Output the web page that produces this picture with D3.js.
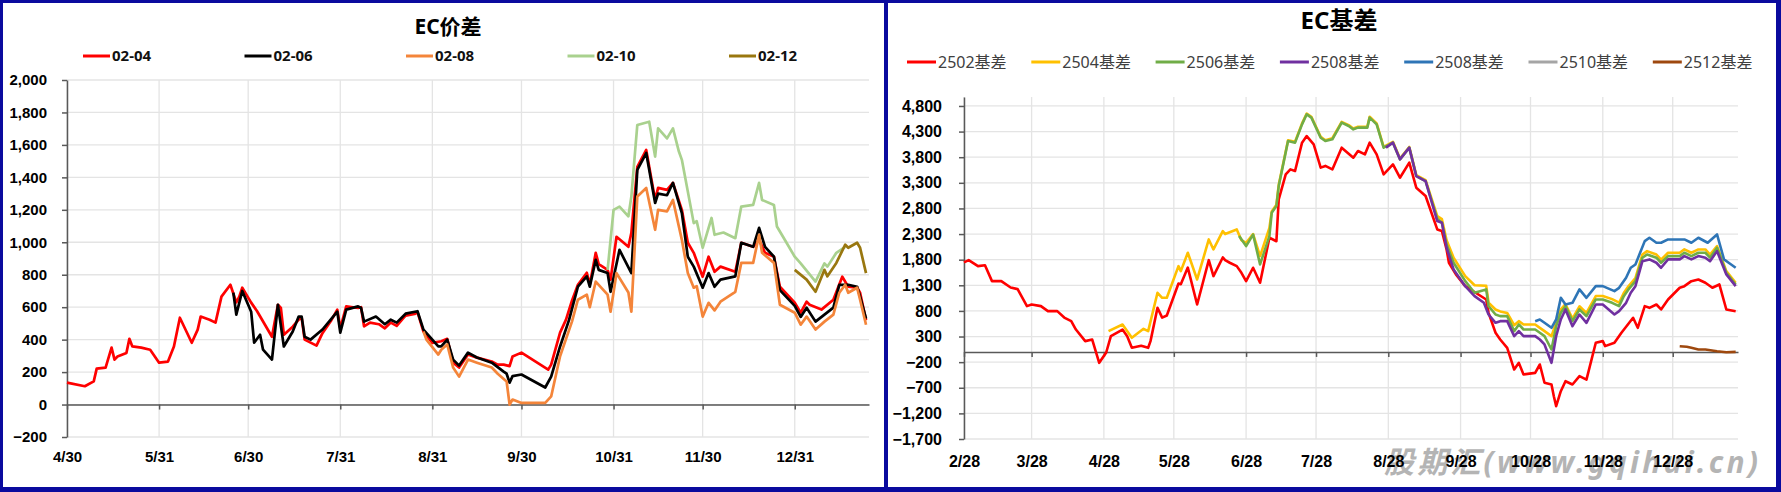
<!DOCTYPE html>
<html>
<head>
<meta charset="utf-8">
<script src="https://cdn.jsdelivr.net/npm/d3@7"></script>
<style>
	body { margin: 0; background: #fff; }
	svg { display: block; font-family: "Noto Sans", "Noto Sans CJK SC", sans-serif; }
</style>
</head>
<body>
<svg id="chart" width="1781" height="492"></svg>
<script>
// ---- data ("M/D", value); Jan belongs to the next year ----
var leftTicks = ["4/30","5/31","6/30","7/31","8/31","9/30","10/31","11/30","12/31"];
var rightTicks = ["2/28","3/28","4/28","5/28","6/28","7/28","8/28","9/28","10/28","11/28","12/28"];
var leftYTicks = d3.range(-200, 2001, 200);
var rightYTicks = d3.range(-1700, 4801, 500);
var leftNames = ["02-04","02-06","02-08","02-10","02-12"];
var rightNames = ["2502基差","2504基差","2506基差","2508基差","2508基差","2510基差","2512基差"];

var ec0204 = [["4/30",135],["5/6",113],["5/9",143],["5/10",221],["5/13",227],["5/15",351],["5/16",277],["5/17",296],["5/20",318],["5/21",405],["5/22",358],["5/25",351],["5/28",338],["5/31",258],["6/3",265],["6/5",358],["6/7",535],["6/11",381],["6/13",462],["6/14",542],["6/17",523],["6/19",505],["6/21",665],["6/24",738],["6/26",630],["6/27",665],["6/28",720],["7/1",628],["7/3",575],["7/8",418],["7/10",615],["7/11",595],["7/12",430],["7/15",480],["7/17",523],["7/18",535],["7/19",400],["7/23",363],["7/25",440],["7/28",520],["7/30",585],["7/31",470],["8/2",605],["8/6",595],["8/7",600],["8/8",482],["8/10",505],["8/13",495],["8/15",470],["8/17",505],["8/19",485],["8/21",528],["8/22",548],["8/25",558],["8/26",570],["8/28",450],["8/31",380],["9/3",390],["9/5",405],["9/7",258],["9/9",228],["9/12",308],["9/15",289],["9/20",265],["9/22",246],["9/24",246],["9/26",237],["9/27",296],["9/30",320],["10/9",215],["10/10",246],["10/13",443],["10/15",523],["10/17",640],["10/19",738],["10/22",812],["10/23",738],["10/25",935],["10/26",865],["10/29",830],["10/30",770],["11/1",1034],["11/5",972],["11/6",1058],["11/8",1465],["11/11",1569],["11/14",1261],["11/15",1335],["11/18",1323],["11/20",1366],["11/23",1200],["11/25",997],["11/27",935],["11/30",788],["12/2",911],["12/4",818],["12/6",850],["12/11",818],["12/13",997],["12/17",972],["12/19",1015],["12/21",935],["12/24",911],["12/26",726],["12/31",628],["1/2",566],["1/4",634],["1/5",615],["1/9",585],["1/13",646],["1/16",788],["1/18",726],["1/21",720],["1/22",689],["1/24",520]];
var ec0206 = [["6/25",690],["6/26",554],["6/28",700],["7/1",572],["7/2",381],["7/4",430],["7/5",338],["7/8",277],["7/10",615],["7/12",358],["7/15",450],["7/17",542],["7/18",542],["7/19",418],["7/21",400],["7/25",462],["7/30",572],["7/31",443],["8/2",585],["8/6",605],["8/7",595],["8/8",511],["8/12",542],["8/15",495],["8/17",523],["8/19",505],["8/22",560],["8/26",575],["8/28",462],["9/2",358],["9/3",358],["9/5",400],["9/7",277],["9/9",240],["9/12",320],["9/15",290],["9/20",258],["9/24",203],["9/25",190],["9/26",135],["9/27",175],["9/30",185],["10/8",105],["10/10",172],["10/13",358],["10/16",520],["10/19",726],["10/22",790],["10/23",726],["10/25",892],["10/26",830],["10/29",810],["10/30",695],["11/2",953],["11/6",810],["11/8",1446],["11/11",1550],["11/14",1242],["11/15",1300],["11/18",1290],["11/20",1366],["11/23",1180],["11/25",911],["11/27",850],["11/30",720],["12/2",810],["12/4",726],["12/6",770],["12/11",790],["12/13",997],["12/17",972],["12/19",1089],["12/21",972],["12/24",911],["12/26",705],["12/31",608],["1/2",540],["1/4",597],["1/7",511],["1/10",554],["1/13",597],["1/15",738],["1/18",738],["1/21",726],["1/22",665],["1/24",530]];
var ec0208 = [["8/28",450],["8/29",400],["9/2",308],["9/3",338],["9/5",370],["9/7",228],["9/9",172],["9/12",277],["9/15",258],["9/20",228],["9/22",190],["9/25",142],["9/26",0],["9/27",31],["9/30",10],["10/8",10],["10/10",50],["10/13",298],["10/17",511],["10/19",646],["10/22",677],["10/23",600],["10/25",758],["10/29",677],["10/30",572],["11/1",810],["11/5",690],["11/6",572],["11/8",1282],["11/11",1335],["11/14",1077],["11/15",1200],["11/18",1190],["11/20",1261],["11/23",1015],["11/25",810],["11/27",720],["11/28",730],["11/30",542],["12/2",627],["12/4",580],["12/6",634],["12/11",695],["12/13",873],["12/17",873],["12/19",1046],["12/20",935],["12/24",873],["12/26",615],["12/31",566],["1/2",492],["1/4",542],["1/7",462],["1/10",511],["1/13",554],["1/15",689],["1/17",738],["1/18",689],["1/21",720],["1/22",646],["1/24",492]];
var ec0210 = [["10/29",830],["10/31",1200],["11/2",1220],["11/5",1160],["11/6",1282],["11/8",1723],["11/12",1743],["11/14",1528],["11/15",1702],["11/18",1640],["11/20",1702],["11/22",1559],["11/23",1508],["11/27",1118],["11/28",1130],["11/30",966],["12/3",1150],["12/4",1046],["12/7",1060],["12/11",1025],["12/13",1220],["12/17",1230],["12/19",1366],["12/20",1261],["12/24",1230],["12/25",1097],["12/27",1036],["12/31",911],["1/2",870],["1/7",758],["1/10",870],["1/11",850],["1/14",935],["1/17",972]];
var ec0212 = [["12/31",830],["1/4",770],["1/7",695],["1/10",830],["1/11",790],["1/14",873],["1/17",985],["1/18",966],["1/21",997],["1/22",966],["1/24",810]];

var bs2502 = [["2/28",1746],["3/1",1791],["3/5",1674],["3/8",1690],["3/11",1381],["3/15",1381],["3/19",1257],["3/22",1225],["3/26",893],["3/28",925],["4/1",893],["4/4",795],["4/8",795],["4/11",670],["4/14",600],["4/16",437],["4/20",210],["4/23",240],["4/26",-213],["4/29",-12],["5/1",307],["5/6",437],["5/8",307],["5/10",80],["5/14",120],["5/17",80],["5/18",210],["5/21",861],["5/23",670],["5/25",710],["5/30",1335],["5/31",1320],["6/3",1645],["6/7",925],["6/12",1790],["6/14",1479],["6/18",1843],["6/19",1790],["6/21",1740],["6/24",1674],["6/26",1543],["6/28",1381],["7/1",1642],["7/4",1350],["7/8",2228],["7/11",2160],["7/12",2977],["7/15",3465],["7/17",3562],["7/19",3530],["7/22",4084],["7/24",4213],["7/27",4050],["7/30",3596],["8/1",3630],["8/4",3562],["8/8",3986],["8/13",3791],["8/15",3921],["8/18",3856],["8/20",4084],["8/23",3856],["8/26",3465],["8/30",3660],["9/2",3400],["9/6",3693],["9/9",3205],["9/13",3042],["9/18",2390],["9/20",2358],["9/22",2000],["9/23",1740],["9/26",1512],["9/30",1283],["10/9",1023],["10/10",763],["10/13",373],["10/15",242],["10/18",80],["10/21",-344],["10/23",-214],["10/25",-441],["10/30",-410],["11/1",-246],["11/3",-603],["11/6",-636],["11/7",-865],["11/8",-1060],["11/10",-767],["11/12",-572],["11/15",-636],["11/18",-474],["11/21",-540],["11/25",178],["11/28",210],["11/29",113],["12/3",178],["12/6",373],["12/11",666],["12/13",470],["12/16",893],["12/18",860],["12/21",925],["12/23",828],["12/26",1023],["12/31",1252],["1/2",1283],["1/5",1381],["1/8",1414],["1/11",1350],["1/14",1252],["1/17",1316],["1/20",828],["1/24",795]];
var bs2504 = [["4/30",405],["5/6",535],["5/10",275],["5/15",451],["5/17",405],["5/21",1154],["5/23",1056],["5/25",1056],["5/30",1674],["5/31",1577],["6/3",1935],["6/7",1414],["6/12",2195],["6/14",2000],["6/18",2358],["6/19",2300],["6/24",2390],["6/26",2180],["6/28",2130],["7/1",2300],["7/4",1870],["7/8",2420],["7/9",2740],["7/11",2870],["7/12",3260],["7/16",4130],["7/19",4100],["7/22",4460],["7/24",4650],["7/26",4590],["7/30",4200],["8/1",4130],["8/4",4170],["8/8",4490],["8/11",4425],["8/13",4360],["8/15",4395],["8/19",4395],["8/20",4590],["8/23",4460],["8/26",4000],["8/30",4100],["9/2",3775],["9/6",4000],["9/9",3450],["9/13",3350],["9/18",2650],["9/20",2590],["9/22",2180],["9/25",1840],["9/30",1480],["10/4",1300],["10/9",1290],["10/10",960],["10/13",828],["10/15",790],["10/18",760],["10/21",520],["10/23",600],["10/25",535],["10/30",535],["11/1",470],["11/3",405],["11/6",307],["11/8",570],["11/10",830],["11/12",930],["11/15",650],["11/18",890],["11/21",760],["11/25",1090],["11/28",1090],["12/2",1030],["12/5",960],["12/7",1150],["12/9",1280],["12/12",1440],["12/15",1902],["12/17",1967],["12/21",1900],["12/23",1800],["12/26",1935],["12/31",1935],["1/2",2000],["1/5",1935],["1/8",2000],["1/11",2000],["1/13",1900],["1/16",2065],["1/20",1577],["1/24",1350]];
var bs2506 = [["6/25",2260],["6/28",2065],["7/1",2290],["7/4",1707],["7/8",2260],["7/9",2717],["7/11",2847],["7/12",3237],["7/16",4115],["7/19",4084],["7/22",4441],["7/24",4637],["7/26",4572],["7/30",4181],["8/1",4115],["8/4",4150],["8/8",4474],["8/11",4410],["8/13",4344],["8/15",4377],["8/19",4377],["8/20",4572],["8/23",4441],["8/26",3986],["8/30",4084],["9/2",3758],["9/6",3986],["9/9",3432],["9/13",3334],["9/18",2600],["9/20",2521],["9/22",2098],["9/25",1740],["9/30",1381],["10/4",1154],["10/9",1219],["10/10",893],["10/13",730],["10/15",698],["10/18",698],["10/21",405],["10/23",535],["10/25",437],["10/30",437],["11/1",373],["11/3",308],["11/6",47],["11/8",502],["11/10",763],["11/12",893],["11/15",600],["11/18",828],["11/21",698],["11/25",1023],["11/28",1023],["12/2",958],["12/5",893],["12/7",1088],["12/9",1219],["12/12",1381],["12/15",1838],["12/17",1902],["12/21",1838],["12/23",1740],["12/26",1870],["12/31",1870],["1/2",1935],["1/5",1870],["1/8",1935],["1/11",1935],["1/13",1838],["1/16",2033],["1/20",1545],["1/24",1316]];
var bs2508a = [["8/27",3986],["8/30",4084],["9/2",3758],["9/6",3986],["9/9",3432],["9/13",3334],["9/18",2554],["9/20",2521],["9/22",2033],["9/25",1609],["9/30",1283],["10/4",1088],["10/8",958],["10/10",730],["10/13",568],["10/15",600],["10/18",600],["10/21",307],["10/23",405],["10/25",307],["10/30",307],["11/1",242],["11/3",145],["11/6",-213],["11/8",307],["11/10",633],["11/12",828],["11/15",502],["11/18",730],["11/21",568],["11/25",925],["11/28",925],["12/3",730],["12/5",795],["12/8",958],["12/10",1154],["12/12",1283],["12/15",1771],["12/18",1805],["12/21",1740],["12/23",1642],["12/26",1805],["12/31",1805],["1/2",1870],["1/5",1805],["1/8",1870],["1/11",1838],["1/13",1771],["1/16",1967],["1/20",1512],["1/24",1283]];
var bs2508b = [["10/30",600],["11/1",633],["11/3",568],["11/6",470],["11/8",633],["11/10",1056],["11/12",925],["11/15",958],["11/18",1219],["11/21",1056],["11/25",1283],["11/28",1283],["12/3",1187],["12/5",1250],["12/8",1447],["12/10",1642],["12/12",1707],["12/16",2162],["12/18",2228],["12/21",2130],["12/23",2130],["12/26",2195],["12/31",2195],["1/2",2195],["1/5",2130],["1/8",2228],["1/12",2130],["1/16",2293],["1/19",1805],["1/21",1740],["1/24",1642]];
var bs2510 = [];
var bs2512 = [["12/31",111],["1/3",100],["1/5",80],["1/8",47],["1/11",47],["1/16",14],["1/20",-6],["1/24",0]];

function parseMD(s) {
	var p = s.split("/"), m = +p[0], d = +p[1];
	return new Date(m < 2 ? 2025 : 2024, m - 1, d);
}

var svg = d3.select("#chart");

// frames
svg.append("rect").attr("width", 1781).attr("height", 492).attr("fill", "#0a0a9e");
svg.append("rect").attr("x", 3).attr("y", 3).attr("width", 881).attr("height", 484).attr("fill", "#fff");
svg.append("rect").attr("x", 888).attr("y", 3).attr("width", 888).attr("height", 484).attr("fill", "#fff");

// watermark under the right axis labels
svg.append("text")
	.attr("x", 1384).attr("y", 473)
	.attr("textLength", 374).attr("lengthAdjust", "spacing")
	.style("font-size", "30px").style("font-weight", "bold").style("font-style", "italic")
	.attr("fill", "#b4b4b4")
	.text("股期汇(www.gqihui.cn)");

function panel(cfg) {
	var g = svg.append("g");
	var x = d3.scaleTime().domain([parseMD(cfg.start), parseMD(cfg.end)]).range(cfg.xr);
	var y = d3.scaleLinear().domain(cfg.yd).range(cfg.yr);
	var tickDates = cfg.ticks.map(parseMD);

	g.append("g").selectAll("line").data(cfg.yTicks).join("line")
		.attr("x1", cfg.xr[0]).attr("x2", cfg.xr[1])
		.attr("y1", d => y(d)).attr("y2", d => y(d))
		.attr("stroke", "#e4e4e4").attr("stroke-width", 1.3);
	g.append("g").selectAll("line").data(tickDates).join("line")
		.attr("x1", d => x(d)).attr("x2", d => x(d))
		.attr("y1", cfg.yr[0]).attr("y2", cfg.yr[1])
		.attr("stroke", "#e4e4e4").attr("stroke-width", 1.3);

	// category axis sits on zero
	var zero = g.append("g").attr("transform", "translate(0," + y(0) + ")")
		.call(d3.axisBottom(x).tickValues(tickDates).tickSize(5).tickSizeOuter(0).tickFormat(""));
	zero.selectAll("path,line").attr("stroke", "#595959").attr("stroke-width", 1.5);

	var ya = g.append("g").attr("transform", "translate(" + cfg.xr[0] + ",0)")
		.call(d3.axisLeft(y).tickValues(cfg.yTicks).tickSize(5).tickSizeOuter(0)
			.tickPadding(cfg.yPad).tickFormat(d3.format(",")));
	ya.selectAll("path,line").attr("stroke", "#595959").attr("stroke-width", 1.5);
	ya.selectAll("text").attr("fill", "#000").style("font-size", cfg.yFont).style("font-weight", "bold").style("font-family", null);

	// date labels along the bottom of the plot
	var xa = g.append("g").attr("transform", "translate(0," + cfg.yr[0] + ")")
		.call(d3.axisBottom(x).tickValues(tickDates).tickSize(0).tickPadding(cfg.xPad)
			.tickFormat((d, i) => cfg.ticks[i]));
	xa.select(".domain").remove();
	xa.selectAll("text").attr("fill", "#000").style("font-size", cfg.xFont).style("font-weight", "bold").style("font-family", null);

	var line = d3.line().x(d => x(parseMD(d[0]))).y(d => y(d[1]));
	cfg.series.forEach(function(s) {
		if (!s.data.length) return;
		g.append("path").datum(s.data)
			.attr("d", line)
			.attr("fill", "none")
			.attr("stroke", s.color)
			.attr("stroke-width", cfg.lw)
			.attr("stroke-linejoin", "round");
	});

	g.append("text")
		.attr("x", cfg.titleX).attr("y", cfg.titleY)
		.attr("text-anchor", "middle")
		.style("font-size", cfg.titleFont).style("font-weight", "bold")
		.text(cfg.title);

	var lg = g.append("g").selectAll("g").data(cfg.series).join("g")
		.attr("transform", (d, i) => "translate(" + (cfg.legX + i * cfg.legStep) + "," + cfg.legY + ")");
	lg.append("line").attr("x1", 0).attr("x2", cfg.legLine)
		.attr("stroke", d => d.color).attr("stroke-width", 3);
	lg.append("text").attr("x", cfg.legLine + 2).attr("dy", "0.35em")
		.attr("fill", cfg.legColor)
		.style("font-size", cfg.legFont).style("font-weight", cfg.legWeight)
		.text(d => d.name);
}

panel({
	start: "4/30", end: "1/25", xr: [67, 869],
	yd: [-200, 2000], yr: [437, 80], yTicks: leftYTicks,
	ticks: leftTicks, yPad: 15, xPad: 14, yFont: "15px", xFont: "15px", lw: 2.7,
	title: "EC价差", titleX: 448, titleY: 34, titleFont: "21px",
	legX: 83, legStep: 161.5, legY: 56, legLine: 27, legFont: "15px", legWeight: "bold", legColor: "#111",
	series: [
		{name: leftNames[0], color: "#ff0000", data: ec0204},
		{name: leftNames[1], color: "#000000", data: ec0206},
		{name: leftNames[2], color: "#f4853a", data: ec0208},
		{name: leftNames[3], color: "#a9d18e", data: ec0210},
		{name: leftNames[4], color: "#99770f", data: ec0212}
	]
});

panel({
	start: "2/28", end: "1/25", xr: [964, 1738],
	yd: [-1700, 4975], yr: [439, 97], yTicks: rightYTicks,
	ticks: rightTicks, yPad: 17, xPad: 17, yFont: "16px", xFont: "16px", lw: 2.6,
	title: "EC基差", titleX: 1339, titleY: 29, titleFont: "24px",
	legX: 907, legStep: 124.3, legY: 62, legLine: 29, legFont: "16px", legWeight: "normal", legColor: "#404040",
	series: [
		{name: rightNames[0], color: "#ff0000", data: bs2502},
		{name: rightNames[1], color: "#ffc000", data: bs2504},
		{name: rightNames[2], color: "#70ad47", data: bs2506},
		{name: rightNames[3], color: "#7030a0", data: bs2508a},
		{name: rightNames[4], color: "#2e75b6", data: bs2508b},
		{name: rightNames[5], color: "#a5a5a5", data: bs2510},
		{name: rightNames[6], color: "#9e480e", data: bs2512}
	]
});
</script>
</body>
</html>
